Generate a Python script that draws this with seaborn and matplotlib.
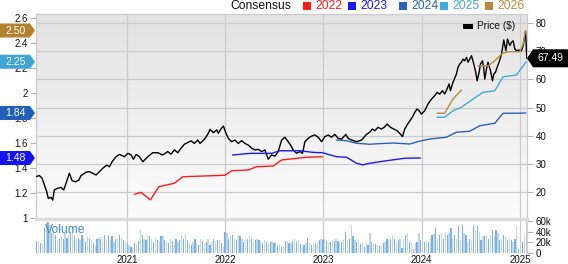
import numpy as np
import pandas as pd
import matplotlib
matplotlib.use("Agg")
import matplotlib.pyplot as plt
import seaborn as sns
from matplotlib.patches import Polygon, Rectangle
from matplotlib.transforms import IdentityTransform
from matplotlib.colors import LinearSegmentedColormap
import matplotlib.ticker as mticker

# ---------------- data (decimal year, value) ----------------
price_pts = [
    (2020.074, 25.5), (2020.108, 25.9), (2020.135, 25.0), (2020.159, 22.6), (2020.183, 20.2),
    (2020.199, 17.8), (2020.227, 18.2), (2020.244, 17.2), (2020.260, 20.8), (2020.295, 21.4),
    (2020.329, 21.7), (2020.356, 20.8), (2020.379, 23.2), (2020.413, 26.7), (2020.440, 24.1),
    (2020.474, 23.7), (2020.509, 24.3), (2020.532, 25.9), (2020.583, 27.1), (2020.616, 27.3),
    (2020.651, 26.7), (2020.685, 26.1), (2020.718, 27.3), (2020.753, 28.5), (2020.793, 29.6),
    (2020.820, 29.0), (2020.847, 30.8), (2020.888, 32.6), (2020.922, 33.4), (2020.973, 32.6),
    (2021.007, 33.8), (2021.041, 33.2), (2021.064, 31.7), (2021.092, 33.4), (2021.125, 32.6),
    (2021.160, 30.8), (2021.211, 32.6), (2021.261, 34.0), (2021.312, 34.0), (2021.363, 33.2),
    (2021.414, 34.4), (2021.448, 33.5), (2021.481, 35.0), (2021.516, 34.0), (2021.549, 35.6),
    (2021.583, 37.0), (2021.651, 38.2), (2021.685, 37.3), (2021.719, 38.5), (2021.743, 37.3),
    (2021.793, 39.0), (2021.827, 40.9), (2021.844, 42.3), (2021.878, 41.1), (2021.913, 42.1),
    (2021.929, 40.9), (2021.953, 42.3), (2021.980, 43.5),
    (2022.007, 40.9), (2022.031, 39.1), (2022.065, 37.9), (2022.099, 38.5), (2022.132, 37.3),
    (2022.167, 38.3), (2022.200, 37.3), (2022.234, 36.7), (2022.269, 35.6), (2022.302, 35.0),
    (2022.336, 35.2), (2022.370, 34.4), (2022.404, 35.0), (2022.437, 31.7), (2022.472, 33.2),
    (2022.506, 32.8), (2022.539, 34.4), (2022.574, 38.5), (2022.607, 39.5), (2022.641, 37.9),
    (2022.665, 36.7), (2022.692, 35.0), (2022.726, 33.8), (2022.760, 34.4), (2022.787, 33.8),
    (2022.811, 37.9), (2022.844, 39.1), (2022.879, 39.9), (2022.913, 40.3), (2022.946, 39.5),
    (2022.981, 37.9),
    (2023.014, 39.7), (2023.048, 40.3), (2023.082, 39.5), (2023.116, 40.5), (2023.150, 39.1),
    (2023.184, 38.8), (2023.228, 40.5), (2023.251, 39.1), (2023.286, 38.5), (2023.337, 37.9),
    (2023.388, 38.5), (2023.438, 40.5), (2023.472, 41.3), (2023.499, 42.4), (2023.523, 41.8),
    (2023.556, 43.0), (2023.591, 42.4), (2023.625, 43.2), (2023.648, 44.2), (2023.683, 43.0),
    (2023.716, 42.4), (2023.750, 41.8), (2023.784, 40.6), (2023.805, 39.7), (2023.828, 42.4),
    (2023.862, 44.4), (2023.906, 46.6), (2023.930, 48.3), (2023.953, 49.5), (2023.974, 48.9),
    (2023.998, 47.7),
    (2024.032, 48.9), (2024.065, 51.3), (2024.100, 53.0), (2024.133, 54.2), (2024.157, 55.4),
    (2024.184, 54.8), (2024.212, 56.0), (2024.235, 54.8), (2024.258, 56.6), (2024.279, 58.4),
    (2024.293, 56.0), (2024.319, 59.0), (2024.354, 61.9), (2024.370, 64.3), (2024.388, 65.5),
    (2024.405, 66.1), (2024.421, 67.2), (2024.438, 66.6), (2024.456, 67.8), (2024.472, 66.1),
    (2024.489, 67.2), (2024.507, 68.4), (2024.517, 67.2), (2024.530, 65.5), (2024.550, 62.5),
    (2024.564, 59.5), (2024.584, 62.5), (2024.598, 65.5), (2024.619, 66.6), (2024.632, 63.7),
    (2024.642, 60.1), (2024.659, 63.7), (2024.675, 66.1), (2024.700, 63.1), (2024.720, 59.5),
    (2024.733, 61.9), (2024.751, 62.5), (2024.767, 64.3), (2024.787, 66.1), (2024.812, 69.0),
    (2024.835, 74.0), (2024.856, 70.2), (2024.873, 74.3), (2024.896, 72.0), (2024.914, 73.2),
    (2024.930, 73.7), (2024.947, 70.8), (2024.964, 70.2), (2024.991, 70.4),
    (2025.015, 70.2), (2025.032, 72.0), (2025.046, 74.9), (2025.056, 77.1), (2025.066, 69.6),
    (2025.069, 67.49),
]

eps2022 = [(2021.074, 1.19), (2021.142, 1.205), (2021.237, 1.145), (2021.322, 1.25),
           (2021.481, 1.278), (2021.567, 1.33), (2021.997, 1.342), (2022.065, 1.378),
           (2022.234, 1.384), (2022.319, 1.41), (2022.488, 1.416), (2022.574, 1.464),
           (2022.828, 1.486), (2022.991, 1.49)]
eps2023 = [(2022.075, 1.504), (2022.251, 1.517), (2022.472, 1.517), (2022.556, 1.538),
           (2022.760, 1.538), (2022.895, 1.525), (2022.991, 1.522), (2023.133, 1.49),
           (2023.235, 1.486), (2023.337, 1.438), (2023.400, 1.425), (2023.472, 1.438),
           (2023.642, 1.458), (2023.828, 1.478), (2023.988, 1.48)]
eps2024 = [(2023.133, 1.624), (2023.235, 1.618), (2023.337, 1.598), (2023.472, 1.59),
           (2023.574, 1.595), (2023.709, 1.60), (2023.879, 1.592), (2023.981, 1.615),
           (2024.082, 1.632), (2024.252, 1.646), (2024.354, 1.686), (2024.489, 1.694),
           (2024.591, 1.738), (2024.744, 1.758), (2024.828, 1.838), (2024.964, 1.838),
           (2025.059, 1.84)]
eps2025 = [(2024.157, 1.806), (2024.235, 1.806), (2024.319, 1.858), (2024.405, 1.886),
           (2024.523, 1.952), (2024.625, 2.006), (2024.744, 2.018), (2024.828, 2.13),
           (2024.964, 2.144), (2025.062, 2.25)]
eps2026_a = [(2024.157, 1.838), (2024.235, 1.838), (2024.269, 1.886), (2024.319, 1.952),
             (2024.405, 2.024)]
eps2026_b = [(2024.574, 2.218), (2024.675, 2.218), (2024.744, 2.258), (2024.812, 2.312),
             (2024.879, 2.33), (2024.998, 2.33), (2025.032, 2.392), (2025.056, 2.50)]

volume_k = [
    22, 20, 19, 16, 46, 59, 59, 52, 37, 43, 34, 24, 27, 31, 26, 37, 29, 33, 40,
    37, 31, 27, 29, 24, 33, 26, 21, 31, 27, 24, 18, 15, 27, 29, 26, 21, 33, 24,
    33, 27, 31, 21, 27, 26, 34, 29, 24, 20, 18, 15, 12, 12, 18, 16, 22, 43, 34,
    27, 24, 34, 31, 26, 21, 29, 24, 22, 31, 31, 24, 21, 18, 27, 22, 15, 26, 21, 24,
    34, 27, 35, 24, 18, 15, 21, 26, 18, 15, 27, 22, 18, 21, 26, 15, 21, 26, 22, 24,
    24, 18, 12, 40, 37, 26, 31, 34, 27, 24, 33, 31, 27, 21, 24, 27, 31, 26, 21, 24,
    27, 24, 21, 18, 24, 21, 16, 20, 22, 18, 21, 14,
    15, 12, 12, 22, 22, 18, 18, 22, 27, 21, 24, 16, 12, 15, 18, 29, 18, 15,
    18, 16, 21, 24, 27, 24, 26, 22, 19, 21, 24, 22, 26, 22, 18, 21, 24, 39, 24, 27, 53, 31, 24, 21,
    24, 16, 18, 12, 18, 15, 37, 21, 16, 16, 15, 14, 15, 18,
    21, 27, 24, 27, 33, 26, 18, 24, 27, 10, 27, 34, 37, 21, 18, 8,
    18, 21, 37, 24, 18, 21, 24, 21, 27, 33, 35, 47, 27, 33, 37, 27,
    40, 33, 37, 47, 27, 34, 27, 50, 24, 53, 37, 34, 21, 27, 24,
    53, 44, 50, 40, 24, 31, 31, 34, 27, 34, 44, 31, 44, 37, 24, 27, 33,
    31, 24, 27, 24, 21, 27, 50, 8, 18, 21, 34, 40, 39,
]
volume_start = "2020-01-31"

years = [2021, 2022, 2023, 2024, 2025]
price_ticks = [20, 30, 40, 50, 60, 70, 80]
eps_ticks = [1.0, 1.2, 1.4, 1.6, 1.8, 2.0, 2.2, 2.4, 2.6]
vol_ticks = [0, 20000, 40000, 60000]
last_price = 67.49
eps_labels = [(2.50, "2.50", "#b5812f"), (2.25, "2.25", "#3fa3d6"),
              (1.84, "1.84", "#2160b8"), (1.48, "1.48", "#1414f0")]
legend_items = ["2022", "2023", "2024", "2025", "2026"]

# ---------------- helpers ----------------
def to_date(y):
    yr = int(np.floor(y))
    start = pd.Timestamp(yr, 1, 1)
    days = (pd.Timestamp(yr + 1, 1, 1) - start).days
    return start + pd.Timedelta(days=(y - yr) * days)

def split(pts):
    return [to_date(p[0]) for p in pts], [p[1] for p in pts]

# ---------------- figure ----------------
sns.set_theme(style="white")
plt.rcParams["font.family"] = ["Liberation Sans", "DejaVu Sans"]

W, H = 568, 264
fig = plt.figure(figsize=(W / 100, H / 100), dpi=100)
fig.patch.set_facecolor("white")
L, R, T, B = 36, 527, 14, 218
VT, VB = 219, 253
ax = fig.add_axes([L / W, 1 - B / H, (R - L) / W, (B - T) / H])
axe = ax.twinx()
axv = fig.add_axes([L / W, 1 - VB / H, (R - L) / W, (VB - VT) / H], sharex=ax)

col = {"2022": "#ff1a1a", "2023": "#1a1aff", "2024": "#2a62b8",
       "2025": "#45a8dc", "2026": "#b98a3e"}
GRID = "#cbcbcb"
xmin, xmax = to_date(2020.074), to_date(2025.071)

# price line (right axis)
px, py = split(price_pts)
sns.lineplot(x=px, y=py, ax=ax, color="black", lw=1.0, estimator=None, sort=False, zorder=3)
ax.set_xlim(xmin, xmax)
ax.set_ylim(10.85, 83.2)
ax.set_autoscale_on(False)
grad = np.linspace(0, 1, 256)[:, None]
cmap = LinearSegmentedColormap.from_list("g", ["#fcfcfc", "#e2e2e2"])
ax.imshow(grad, extent=[0, 1, 0, 1], transform=ax.transAxes, aspect="auto",
          cmap=cmap, origin="lower", zorder=-5)
ax.set_xlim(xmin, xmax)
ax.set_ylim(10.85, 83.2)
ax.set_yticks(price_ticks)
ax.yaxis.set_major_formatter(mticker.FuncFormatter(lambda v, p: f"{v:g}"))
ax.set_xticks([pd.Timestamp(y, 1, 1) for y in years])
ax.grid(True, color=GRID, lw=0.9)
ax.set_axisbelow(True)
ax.tick_params(axis="x", length=0, labelbottom=False)
ax.tick_params(axis="y", length=4, width=0.8, color="#b0b0b0", labelsize=7,
               pad=2, labelcolor="#111111", right=True, left=False,
               labelright=True, labelleft=False)
for s in ["left", "top", "right"]:
    ax.spines[s].set_color(GRID)
    ax.spines[s].set_linewidth(0.9)
ax.spines["bottom"].set_visible(False)
ax.set_xlabel("")
ax.set_ylabel("")

# consensus lines (left axis)
for pts, key in [(eps2022, "2022"), (eps2023, "2023"), (eps2024, "2024"),
                 (eps2025, "2025"), (eps2026_a, "2026"), (eps2026_b, "2026")]:
    ex, ey = split(pts)
    sns.lineplot(x=ex, y=ey, ax=axe, color=col[key], lw=1.0, estimator=None, sort=False)
axe.set_ylim(1.0, 1.0 + (B - T) / 125)
axe.set_xlim(xmin, xmax)
axe.set_yticks(eps_ticks)
axe.yaxis.set_major_formatter(mticker.FuncFormatter(lambda v, p: f"{round(v, 2):g}"))
axe.tick_params(axis="y", length=4, width=0.8, color="#b0b0b0", labelsize=7,
                pad=2, labelcolor="#111111", left=True, right=False,
                labelleft=True, labelright=False)
for s in axe.spines.values():
    s.set_visible(False)
axe.set_xlabel("")
axe.set_ylabel("")

# volume
vdates = pd.date_range(volume_start, periods=len(volume_k), freq="7D")
vcols = ["#7db2df" if i % 2 == 0 else "#bcd7ef" for i in range(len(volume_k))]
axv.bar(vdates, np.array(volume_k) * 1000, width=4.5, color=vcols, linewidth=0)
axv.set_ylim(0, 63750)
axv.set_xlim(xmin, xmax)
axv.set_facecolor("white")
axv.yaxis.set_ticks_position("right")
axv.set_yticks(vol_ticks)
axv.yaxis.set_major_formatter(mticker.FuncFormatter(lambda v, p: "0" if v == 0 else f"{int(v / 1000)}k"))
axv.grid(True, axis="x", color=GRID, lw=0.9)
axv.grid(False, axis="y")
axv.set_axisbelow(True)
axv.tick_params(axis="y", length=4, width=0.8, color="#b0b0b0", labelsize=7,
                pad=2, labelcolor="#111111", right=True, left=False)
axv.tick_params(axis="x", length=0, labelsize=7, pad=1.5, labelcolor="#111111", labelbottom=True)
axv.xaxis.set_major_formatter(mticker.FuncFormatter(
    lambda v, p: str(matplotlib.dates.num2date(v).year)))
axv.spines["top"].set_color("#dcdcdc")
axv.spines["top"].set_linewidth(2.5)
axv.spines["right"].set_color(GRID)
axv.spines["left"].set_visible(False)
axv.spines["bottom"].set_visible(False)
axv.text((45 - L) / (R - L), 0.68, "Volume", transform=axv.transAxes,
         fontsize=8.7, color="#3d8bd0", va="center", ha="left")

# ---------------- annotations in pixel space ----------------
IT = IdentityTransform()

def fy(py_top):
    return H - py_top

# left EPS value tags
for val, txt, c in eps_labels:
    yd = axe.transData.transform((0, val))[1]
    poly = Polygon([(0, yd - 7), (30, yd - 7), (35, yd), (30, yd + 7), (0, yd + 7)],
                   closed=True, transform=IT, facecolor=c, edgecolor="none")
    fig.add_artist(poly)
    fig.text(15.5, yd, txt, transform=IT, color="white", fontsize=7.5,
             ha="center", va="center")

# right last price tag
yd = ax.transData.transform((0, last_price))[1]
poly = Polygon([(527, yd), (533, yd + 9), (568, yd + 9), (568, yd - 9), (533, yd - 9)],
               closed=True, transform=IT, facecolor="black", edgecolor="none")
fig.add_artist(poly)
fig.text(550.5, yd, f"{last_price:.2f}", transform=IT, color="white", fontsize=7.5,
         ha="center", va="center")

# top legend
fig.text(230, fy(6), "Consensus", transform=IT, fontsize=8.7, color="#111111",
         ha="left", va="center")
sq_x = [303, 348, 399, 440, 485]
for name, sx in zip(legend_items, sq_x):
    fig.add_artist(Rectangle((sx, fy(10)), 8, 8, transform=IT, facecolor=col[name],
                             edgecolor="none"))
    fig.text(sx + 12, fy(6), name, transform=IT, fontsize=8.7, color=col[name],
             ha="left", va="center")

# price legend
fig.add_artist(Rectangle((463, fy(28.5)), 10, 5, transform=IT, facecolor="black",
                         edgecolor="none"))
fig.text(477, fy(26), "Price ($)", transform=IT, fontsize=7.3, color="#111111",
         ha="left", va="center")

fig.savefig("out.png", dpi=100, facecolor="white")
